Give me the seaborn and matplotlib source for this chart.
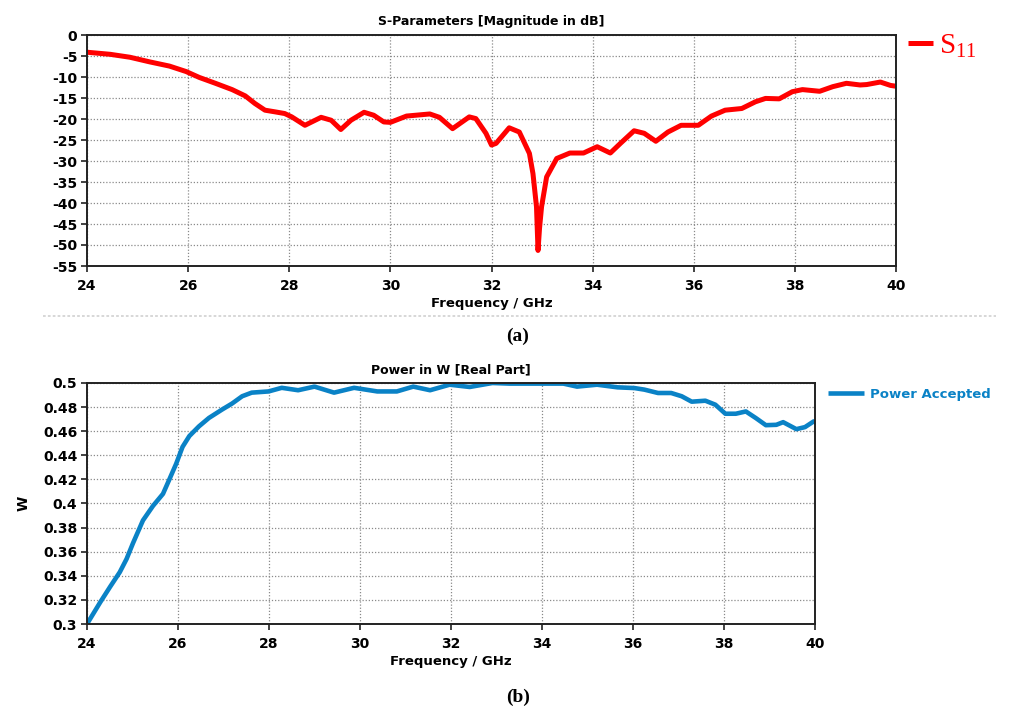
import numpy as np
import pandas as pd
import matplotlib
matplotlib.use("Agg")
import matplotlib.pyplot as plt
import seaborn as sns
from matplotlib.lines import Line2D
from matplotlib.ticker import FuncFormatter

# ---- data ----
s11_freq = [24.0, 24.46, 24.85, 25.24, 25.63, 25.96, 26.22, 26.54, 26.87, 27.13, 27.32,
            27.52, 27.72, 27.91, 28.05, 28.31, 28.63, 28.83, 29.02, 29.22, 29.48, 29.67,
            29.87, 30.0, 30.32, 30.78, 30.97, 31.23, 31.56, 31.69, 31.89, 32.0, 32.09,
            32.35, 32.55, 32.75, 32.82, 32.89, 32.92, 32.95, 32.99, 33.09, 33.29, 33.55,
            33.82, 34.09, 34.35, 34.55, 34.82, 35.02, 35.25, 35.49, 35.75, 36.09, 36.35,
            36.62, 36.95, 37.22, 37.42, 37.69, 37.95, 38.15, 38.49, 38.75, 39.02, 39.29,
            39.42, 39.69, 39.89, 40.0]
s11_db = [-4.1, -4.6, -5.3, -6.4, -7.4, -8.7, -10.1, -11.5, -13.0, -14.5, -16.3,
          -17.9, -18.3, -18.7, -19.5, -21.5, -19.6, -20.3, -22.5, -20.3, -18.4, -19.1,
          -20.7, -20.8, -19.3, -18.8, -19.6, -22.3, -19.5, -19.9, -23.4, -26.2, -25.8,
          -22.1, -23.1, -28.2, -33.0, -40.9, -51.3, -46.0, -40.9, -33.8, -29.4, -28.1,
          -28.1, -26.6, -28.1, -25.8, -22.8, -23.4, -25.3, -23.1, -21.5, -21.5, -19.3,
          -17.9, -17.5, -15.9, -15.1, -15.2, -13.5, -13.0, -13.4, -12.3, -11.5, -11.9,
          -11.8, -11.2, -12.0, -12.2]

pw_freq = [24.0, 24.29, 24.51, 24.72, 24.87, 25.01, 25.23, 25.45, 25.67, 25.81, 25.96,
           26.10, 26.25, 26.46, 26.68, 26.97, 27.19, 27.41, 27.62, 27.99, 28.28, 28.64,
           29.00, 29.43, 29.87, 30.38, 30.81, 31.17, 31.54, 31.97, 32.41, 32.91, 33.29,
           34.03, 34.47, 34.77, 35.21, 35.66, 36.03, 36.25, 36.55, 36.84, 37.07, 37.29,
           37.59, 37.81, 38.03, 38.26, 38.48, 38.70, 38.92, 39.15, 39.30, 39.59, 39.78,
           39.97, 40.0]
pw_w = [0.300, 0.318, 0.331, 0.343, 0.354, 0.367, 0.386, 0.398, 0.408, 0.420, 0.433,
        0.447, 0.456, 0.464, 0.471, 0.478, 0.483, 0.489, 0.492, 0.493, 0.496, 0.494,
        0.497, 0.492, 0.496, 0.493, 0.493, 0.497, 0.494, 0.4986, 0.4967, 0.500, 0.4995,
        0.4995, 0.4995, 0.497, 0.4986, 0.4964, 0.4958, 0.4945, 0.4917, 0.4917, 0.489, 0.4845,
        0.4853, 0.482, 0.4745, 0.4745, 0.4764, 0.4709, 0.465, 0.4653, 0.4675, 0.4617, 0.4634,
        0.4681, 0.468]

x_ticks = [24, 26, 28, 30, 32, 34, 36, 38, 40]
s11_yticks = [0, -5, -10, -15, -20, -25, -30, -35, -40, -45, -50, -55]
pw_yticks = [0.3, 0.32, 0.34, 0.36, 0.38, 0.4, 0.42, 0.44, 0.46, 0.48, 0.5]

RED = "#ff0000"
BLUE = "#0a82c6"

sns.set_theme(style="white")
plt.rcParams["font.family"] = ["DejaVu Sans"]
plt.rcParams["axes.unicode_minus"] = False
plt.rcParams["mathtext.fontset"] = "custom"
plt.rcParams["mathtext.rm"] = "Liberation Serif"
plt.rcParams["text.color"] = "black"
plt.rcParams["axes.labelcolor"] = "black"
plt.rcParams["axes.titlecolor"] = "black"

W, H = 1014, 709
fig = plt.figure(figsize=(W / 100, H / 100), dpi=100)


def px_axes(l, t, r, b):
    return fig.add_axes([l / W, 1 - b / H, (r - l) / W, (b - t) / H])


ax1 = px_axes(87, 35, 896, 266)
ax2 = px_axes(87, 383, 815, 624)

df1 = pd.DataFrame({"freq": s11_freq, "val": s11_db})
df2 = pd.DataFrame({"freq": pw_freq, "val": pw_w})

sns.lineplot(data=df1, x="freq", y="val", ax=ax1, color=RED, lw=3.6,
             label=r"$\mathrm{S}_{\mathrm{11}}$", solid_capstyle="butt",
             solid_joinstyle="round")
sns.lineplot(data=df2, x="freq", y="val", ax=ax2, color=BLUE, lw=3.3,
             label="Power Accepted", solid_capstyle="butt", solid_joinstyle="round")


def style(ax, yticks, ylim):
    ax.set_xlim(24, 40)
    ax.set_ylim(*ylim)
    ax.set_xticks(x_ticks)
    ax.set_yticks(yticks)
    ax.grid(True, linestyle=(0, (1, 1.5)), color="#8a8a8a", lw=0.9)
    for s in ax.spines.values():
        s.set_color("#222222")
        s.set_linewidth(1.4)
    ax.tick_params(axis="both", direction="out", length=4, width=1.2, color="#222222",
                   labelsize=10, labelcolor="black")
    ax.tick_params(axis="x", pad=5)
    ax.tick_params(axis="y", pad=3)
    ax.tick_params(left=True, bottom=True)
    ax.set_facecolor("white")


style(ax1, s11_yticks, (-55, 0))
style(ax2, pw_yticks, (0.3, 0.5))
ax2.yaxis.set_major_formatter(FuncFormatter(lambda v, p: f"{v:g}"))
for ax in (ax1, ax2):
    for lab in ax.get_xticklabels() + ax.get_yticklabels():
        lab.set_fontweight("bold")

ax1.set_title("S-Parameters [Magnitude in dB]", fontsize=9, fontweight="bold", pad=7)
ax2.set_title("Power in W [Real Part]", fontsize=9, fontweight="bold", pad=7)
ax1.set_xlabel("Frequency / GHz", fontsize=9.5, fontweight="bold", labelpad=3)
ax2.set_xlabel("Frequency / GHz", fontsize=9.5, fontweight="bold", labelpad=3)
ax1.set_ylabel("")
ax2.set_ylabel("W", fontsize=10, fontweight="bold", labelpad=9)

leg1 = ax1.legend(loc="upper left", bbox_to_anchor=(908 / W, 1 - 31 / H),
                  bbox_transform=fig.transFigure, frameon=False, fontsize=21,
                  handlelength=0.85, handletextpad=0.2, borderpad=0, borderaxespad=0)
for t in leg1.get_texts():
    t.set_color(RED)
leg2 = ax2.legend(loc="upper left", bbox_to_anchor=(828 / W, 1 - 388 / H),
                  bbox_transform=fig.transFigure, frameon=False, fontsize=9.5,
                  handlelength=2.7, handletextpad=0.5, borderpad=0, borderaxespad=0)
for t in leg2.get_texts():
    t.set_color(BLUE)
    t.set_fontweight("bold")

# separator and panel captions
fig.add_artist(Line2D([43 / W, 996 / W], [1 - 316 / H, 1 - 316 / H], color="#d4d4d4",
                      lw=1.3, linestyle=(0, (1.5, 1.2))))
fig.text(518 / W, 1 - 336 / H, "(a)", ha="center", va="center", fontsize=14,
         family="Liberation Serif", fontweight="bold", color="black")
fig.text(518 / W, 1 - 697 / H, "(b)", ha="center", va="center", fontsize=14,
         family="Liberation Serif", fontweight="bold", color="black")

fig.savefig("out.png", dpi=100, facecolor="white")
